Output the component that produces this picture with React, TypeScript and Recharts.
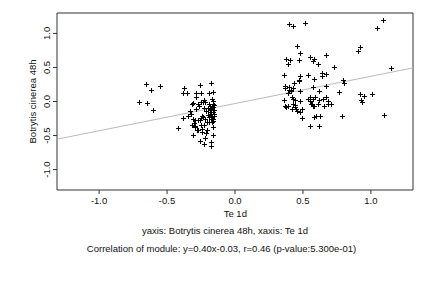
import { ScatterChart, Scatter, XAxis, YAxis, ReferenceLine, ReferenceArea } from 'recharts'

// left group (Te 1d < 0)
const leftPoints: [number, number][] = [
  [-0.706, -0.01], [-0.654, 0.254], [-0.647, -0.025], [-0.618, 0.166], [-0.603, -0.128], [-0.551, 0.23],
  [-0.421, -0.393], [-0.382, -0.246], [-0.375, 0.196], [-0.382, 0.122], [-0.353, 0.122], [-0.333, -0.138],
  [-0.346, -0.216], [-0.32, -0.03], [-0.311, -0.025], [-0.309, -0.25], [-0.309, -0.496], [-0.296, -0.38],
  [-0.291, -0.275], [-0.291, -0.363], [-0.289, 0.118], [-0.289, 0.059], [-0.284, -0.113], [-0.274, -0.03],
  [-0.267, -0.065], [-0.274, -0.422], [-0.269, -0.275], [-0.257, 0.24], [-0.25, 0.132], [-0.252, -0.006],
  [-0.237, -0.006], [-0.245, -0.216], [-0.235, -0.235], [-0.247, -0.35], [-0.23, -0.35], [-0.24, -0.407],
  [-0.26, -0.58], [-0.228, -0.628], [-0.21, -0.46], [-0.203, -0.422], [-0.218, -0.54],
  [-0.176, 0.265], [-0.191, 0.118], [-0.162, 0.137], [-0.171, 0.044], [-0.162, 0.01], [-0.191, -0.03],
  [-0.162, -0.03], [-0.181, -0.103], [-0.162, -0.079], [-0.186, -0.152], [-0.162, -0.152], [-0.176, -0.187],
  [-0.151, -0.187], [-0.191, -0.235], [-0.162, -0.25], [-0.171, -0.3], [-0.191, -0.3], [-0.162, -0.373],
  [-0.162, -0.496], [-0.176, -0.594], [-0.174, -0.657], [-0.155, -0.21], [-0.17, -0.22], [-0.18, -0.26],
  [-0.158, -0.12], [-0.175, -0.13], [-0.165, -0.28], [-0.185, -0.06], [-0.168, -0.1], [-0.155, -0.05],
  [-0.22, 0.0], [-0.23, 0.02], [-0.2, -0.1], [-0.215, -0.14], [-0.205, -0.3], [-0.225, -0.09],
  [-0.26, -0.27], [-0.3, -0.31], [-0.325, -0.19], [-0.315, -0.34], [-0.24, -0.45], [-0.22, -0.25],
  [-0.2, -0.2], [-0.25, -0.24], [-0.28, -0.42],
]

// right group (Te 1d > 0)
const rightPoints: [number, number][] = [
  [0.395, 1.137], [0.426, 1.112], [0.515, 1.156], [1.088, 1.196], [1.044, 1.074], [0.456, 0.813],
  [0.478, 0.715], [0.922, 0.794], [0.904, 0.744], [0.375, 0.618], [0.402, 0.607], [0.39, 0.549],
  [0.471, 0.607], [0.554, 0.651], [0.579, 0.622], [0.574, 0.597], [0.61, 0.549], [0.672, 0.681],
  [0.726, 0.5], [1.147, 0.485], [0.358, 0.387], [0.481, 0.372], [0.471, 0.313], [0.468, 0.294],
  [0.537, 0.382], [0.581, 0.328], [0.638, 0.416], [0.667, 0.4], [0.638, 0.368], [0.794, 0.313],
  [0.804, 0.274], [0.368, 0.225], [0.368, 0.196], [0.397, 0.206], [0.414, 0.176], [0.424, 0.191],
  [0.437, 0.274], [0.412, 0.151], [0.481, 0.156], [0.571, 0.206], [0.669, 0.235], [0.765, 0.141],
  [0.618, 0.156], [0.363, 0.029], [0.419, 0.059], [0.426, 0.034], [0.387, 0.118], [0.365, -0.069],
  [0.39, -0.069], [0.378, -0.088], [0.417, -0.113], [0.446, -0.113], [0.458, -0.143], [0.481, -0.147],
  [0.495, -0.113], [0.588, 0.059], [0.495, -0.241], [0.593, -0.216], [0.625, -0.206], [0.551, -0.363],
  [0.618, -0.363], [0.79, -0.216], [1.096, -0.201], [0.917, 0.107], [0.946, 0.078], [1.005, 0.107],
  [0.924, 0.019], [0.931, -0.01], [0.61, -0.035], [0.476, 0.009], [0.54, 0.034], [0.549, 0.059],
  [0.574, 0.038], [0.554, 0.004], [0.562, -0.03], [0.574, -0.069], [0.618, 0.019], [0.672, 0.059],
  [0.684, 0.009], [0.682, -0.03], [0.709, -0.03], [0.657, -0.069], [0.426, -0.03], [0.441, -0.05],
  [0.441, -0.084], [0.65, 0.038], [0.495, -0.103], [0.569, -0.03], [0.578, -0.069], [0.583, -0.225],
  [0.397, 0.167], [0.441, 0.02],
]

const xTicks = [-1, -0.5, 0, 0.5, 1]
const yTicks = [-1, -0.5, 0, 0.5, 1]
const xDomain: [number, number] = [-1.31, 1.31]
const yDomain: [number, number] = [-1.3, 1.3]

// fit from the caption
const slope = 0.4
const intercept = -0.03

const font = '"Liberation Sans", Arial, sans-serif'
const fs = 9.5
const ink = '#111'

const data = [...leftPoints, ...rightPoints].map(([x, y]) => ({ x, y }))

function Plus(props: any) {
  const { cx, cy } = props
  if (cx == null || cy == null) return null
  // snap to pixel grid so the crosses stay crisp
  const px = Math.round(cx) + 0.5
  const py = Math.round(cy) + 0.5
  const r = 2.5
  return (
    <path
      d={`M${px - r},${py}H${px + r}M${px},${py - r}V${py + r}`}
      stroke="#000"
      strokeWidth={1}
      fill="none"
    />
  )
}

function YTick(props: any) {
  const { x, y, payload } = props
  return (
    <text
      x={x}
      y={y}
      transform={`rotate(-90, ${x}, ${y})`}
      textAnchor="middle"
      fontSize={fs}
      fontFamily={font}
      fill={ink}
    >
      {Number(payload.value).toFixed(1)}
    </text>
  )
}

export default function App() {
  return (
    <div style={{ position: 'absolute', left: 0, top: 0, width: 432, height: 288, background: '#fff' }}>
      <ScatterChart width={432} height={288} margin={{ top: 13, right: 19, bottom: 68, left: 12 }}>
        <XAxis
          type="number"
          dataKey="x"
          domain={xDomain}
          ticks={xTicks}
          allowDataOverflow
          tickFormatter={(v) => Number(v).toFixed(1)}
          axisLine={false}
          tickLine={{ stroke: '#333' }}
          tickSize={4}
          tickMargin={3}
          height={30}
          tick={{ fontSize: fs, fontFamily: font, fill: ink }}
        />
        <YAxis
          type="number"
          dataKey="y"
          domain={yDomain}
          ticks={yTicks}
          allowDataOverflow
          axisLine={false}
          tickLine={{ stroke: '#333' }}
          tickSize={4}
          tickMargin={3}
          width={45}
          tick={<YTick />}
        />
        <ReferenceArea
          x1={xDomain[0]}
          x2={xDomain[1]}
          y1={yDomain[0]}
          y2={yDomain[1]}
          fill="none"
          fillOpacity={0}
          stroke="#333"
          strokeWidth={1}
          ifOverflow="visible"
        />
        <Scatter data={data} shape={<Plus />} isAnimationActive={false} />
        <ReferenceLine
          segment={[
            { x: xDomain[0], y: slope * xDomain[0] + intercept },
            { x: xDomain[1], y: slope * xDomain[1] + intercept },
          ]}
          stroke="#bbb"
          strokeWidth={1}
          ifOverflow="visible"
        />
      </ScatterChart>
      <svg
        width={432}
        height={288}
        style={{ position: 'absolute', left: 0, top: 0, pointerEvents: 'none' }}
        fontFamily={font}
        fontSize={fs}
        fill={ink}
      >
        <text x={235.3} y={217.3} textAnchor="middle">Te 1d</text>
        <text x={225} y={234} textAnchor="middle">yaxis: Botrytis cinerea 48h, xaxis: Te 1d</text>
        <text x={221.5} y={251.5} textAnchor="middle">
          Correlation of module: y=0.40x-0.03, r=0.46 (p-value:5.300e-01)
        </text>
        <text x={35.5} y={101.5} textAnchor="middle" transform="rotate(-90, 35.5, 101.5)">
          Botrytis cinerea 48h
        </text>
      </svg>
    </div>
  )
}
